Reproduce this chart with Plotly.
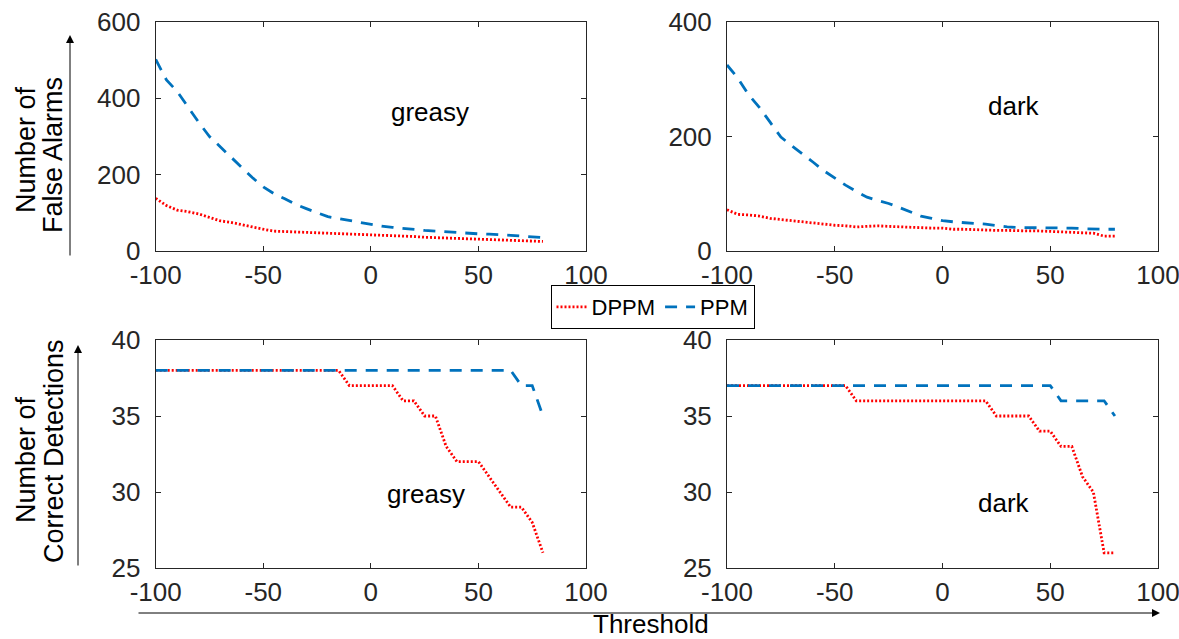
import plotly.graph_objects as go

# ---------------- data ----------------
thresholds = list(range(-100, 81, 5))

fa_greasy_dppm = [138, 119, 107, 103, 97, 88, 79, 75, 69, 62, 57, 52, 51, 50, 49, 48, 46, 45, 45,
                  44, 43, 42, 40, 39, 38, 36, 35, 34, 32, 31, 30, 29, 28, 27, 26.5, 26, 25]
fa_greasy_ppm = [502, 448, 418, 376, 337, 300, 273, 244, 218, 192, 168, 150, 137, 122, 111, 100, 90, 85, 80,
                 75, 69, 65, 62, 59, 56, 54, 52, 50, 48, 46, 45, 44, 43, 41, 39, 37, 35]

fa_dark_dppm = [72, 64, 63, 61, 57, 55, 52, 50, 49, 47, 45, 44, 42, 43, 44, 43, 42, 41, 41,
                40, 40, 38, 38, 37, 37, 36, 36, 35, 35, 35, 34, 34, 33, 32, 31, 26, 26]
fa_dark_ppm = [325, 302, 273, 251, 225, 199, 184, 170, 155, 140, 127, 115, 104, 94, 88, 83, 76, 68, 61,
               57, 53, 51, 49, 48, 47, 44, 42, 41, 41, 41, 41, 40, 40, 39, 38, 38, 38]

cd_greasy_dppm = [38] * 18 + [37, 37, 37, 37, 37, 36, 36, 35, 35, 33, 32, 32, 32, 31, 30, 29, 29, 28, 26]
cd_greasy_ppm = [38] * 34 + [37, 37, 35]

cd_dark_dppm = [37] * 12 + [36] * 13 + [35, 35, 35, 35, 34, 34, 33, 33, 31, 30, 26, 26]
cd_dark_ppm = [37] * 31 + [36, 36, 36, 36, 36, 35]

series_names = ["DPPM", "PPM"]
panel_labels = ["greasy", "dark", "greasy", "dark"]
x_ticks = [-100, -50, 0, 50, 100]
y_ticks_fa_greasy = [0, 200, 400, 600]
y_ticks_fa_dark = [0, 200, 400]
y_ticks_cd = [25, 30, 35, 40]

# ---------------- style ----------------
W, H = 1179, 639
RED = "#FF0000"
BLUE = "#0072BD"
AX = "#262626"
FONT = "Liberation Sans"

def px(x):
    return x / W

def py(y):
    return 1 - y / H

dom_x = [[px(155.7), px(586)], [px(727), px(1158)]]
dom_y_top = [py(251), py(22)]
dom_y_bot = [py(568), py(340)]

fig = go.Figure()

panels = [
    (1, fa_greasy_dppm, fa_greasy_ppm),
    (2, fa_dark_dppm, fa_dark_ppm),
    (3, cd_greasy_dppm, cd_greasy_ppm),
    (4, cd_dark_dppm, cd_dark_ppm),
]
for idx, dppm, ppm in panels:
    xa = "x" if idx == 1 else f"x{idx}"
    ya = "y" if idx == 1 else f"y{idx}"
    fig.add_trace(go.Scatter(x=thresholds, y=dppm, mode="lines", name=series_names[0],
                             line=dict(color=RED, width=2.8, dash="2px,2px"),
                             xaxis=xa, yaxis=ya, showlegend=(idx == 1)))
    fig.add_trace(go.Scatter(x=thresholds, y=ppm, mode="lines", name=series_names[1],
                             line=dict(color=BLUE, width=2.8, dash="12px,9px"),
                             xaxis=xa, yaxis=ya, showlegend=(idx == 1)))

axis_common = dict(showline=True, linecolor=AX, linewidth=1, mirror="allticks",
                   ticks="inside", ticklen=5, tickcolor=AX, tickwidth=1,
                   showgrid=False, zeroline=False, automargin=False,
                   ticklabeloverflow="allow",
                   tickfont=dict(family=FONT, size=26, color=AX))

layout = dict(width=W, height=H, margin=dict(l=0, r=0, t=0, b=0, pad=0),
              plot_bgcolor="white", paper_bgcolor="white",
              font=dict(family=FONT, size=26, color="black"))

for idx in range(1, 5):
    col = (idx - 1) % 2
    top = idx <= 2
    xk = "xaxis" if idx == 1 else f"xaxis{idx}"
    yk = "yaxis" if idx == 1 else f"yaxis{idx}"
    xa = "x" if idx == 1 else f"x{idx}"
    ya = "y" if idx == 1 else f"y{idx}"
    layout[xk] = dict(axis_common, domain=dom_x[col], anchor=ya, range=[-100, 100],
                      tickvals=x_ticks, ticktext=[str(v) for v in x_ticks], ticklabelstandoff=1)
    if idx == 1:
        yr, yt = [0, 600], y_ticks_fa_greasy
    elif idx == 2:
        yr, yt = [0, 400], y_ticks_fa_dark
    else:
        yr, yt = [25, 40], y_ticks_cd
    layout[yk] = dict(axis_common, domain=dom_y_top if top else dom_y_bot, anchor=xa,
                      range=yr, tickvals=yt, ticktext=[str(v) for v in yt], ticklabelstandoff=9)

layout["legend"] = dict(orientation="h", x=px(652.5), y=py(307), xanchor="center", yanchor="middle",
                        bordercolor="black", borderwidth=1, bgcolor="white",
                        font=dict(family=FONT, size=22, color="black"),
                        itemwidth=30, tracegroupgap=0)

annotations = []
# panel labels
label_pos = [("x", "y", 27.5, 364), ("x2", "y2", 33, 253), ("x3", "y3", 25.6, 29.9), ("x4", "y4", 28.5, 29.3)]
for (xr, yr_, xv, yv), txt in zip(label_pos, panel_labels):
    annotations.append(dict(xref=xr, yref=yr_, x=xv, y=yv, text=txt, showarrow=False,
                            font=dict(family=FONT, size=26, color="black"),
                            xanchor="center", yanchor="middle"))

# y-axis titles
for txt, xx, yy in [("Number of", 26, 150), ("False Alarms", 53, 155),
                    ("Number of", 26, 460), ("Correct Detections", 54, 451)]:
    annotations.append(dict(xref="paper", yref="paper", x=px(xx), y=py(yy), text=txt,
                            showarrow=False, textangle=-90,
                            font=dict(family=FONT, size=27, color="black"),
                            xanchor="center", yanchor="middle"))

# x-axis title
annotations.append(dict(xref="paper", yref="paper", x=px(651), y=py(624), text="Threshold",
                        showarrow=False, font=dict(family=FONT, size=26, color="black"),
                        xanchor="center", yanchor="middle"))

# arrows
for hx, hy, ax, ay in [(70, 35, 0, 222), (78, 345, 0, 222), (1160, 613, -1023, 0)]:
    annotations.append(dict(xref="paper", yref="paper", x=px(hx), y=py(hy), text="",
                            showarrow=True, axref="pixel", ayref="pixel", ax=ax, ay=ay,
                            arrowhead=2, arrowsize=1.6, arrowwidth=1, arrowcolor="black",
                            standoff=0, startstandoff=0))

layout["annotations"] = annotations
fig.update_layout(**layout)

fig.write_html("out.html")
